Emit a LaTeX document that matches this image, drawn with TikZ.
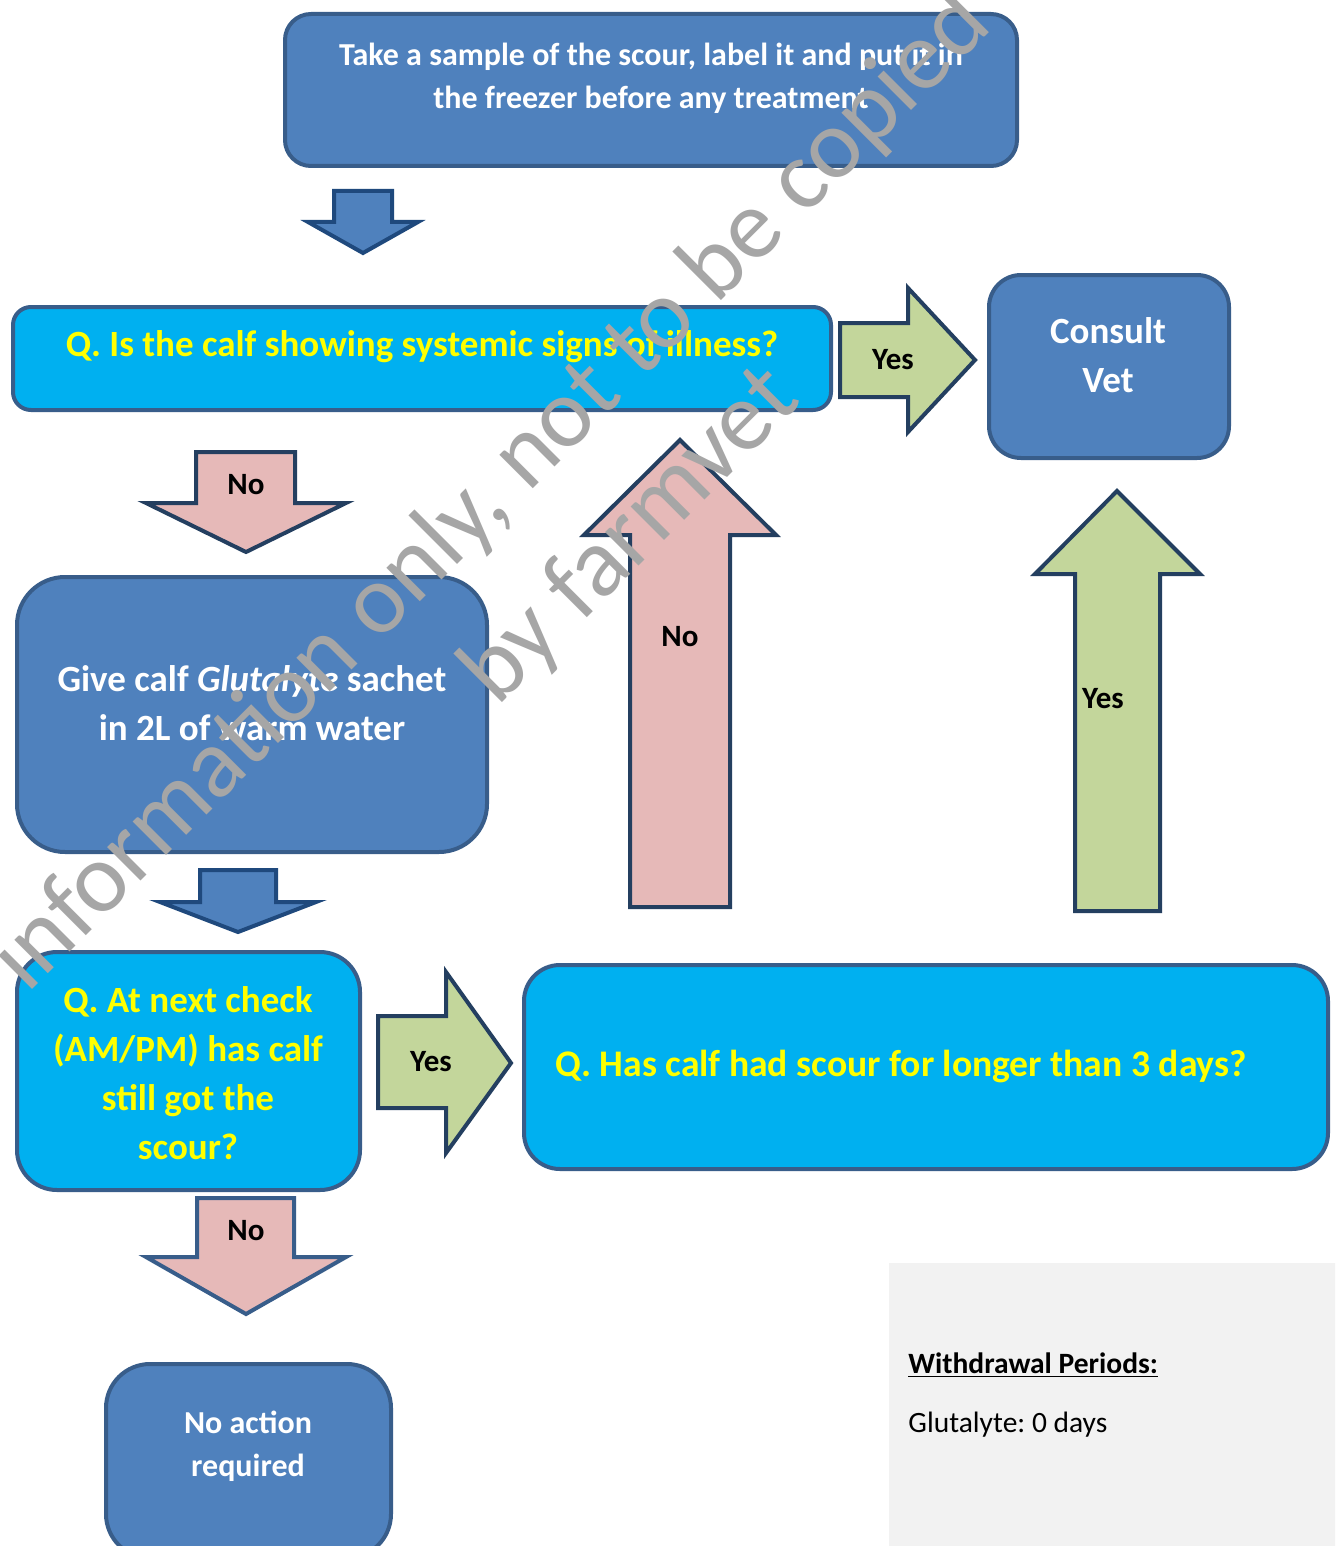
\documentclass[tikz,border=0pt]{standalone}
\usepackage{fontspec}
\setmainfont{Carlito}
\frenchspacing
\definecolor{bfill}{HTML}{4F81BD}
\definecolor{bline}{HTML}{385D8A}
\definecolor{cfill}{HTML}{00B0F0}
\definecolor{qyellow}{HTML}{FFFF00}
\definecolor{gfill}{HTML}{C3D69B}
\definecolor{pfill}{HTML}{E6B9B8}
\definecolor{aline}{HTML}{243F60}
\definecolor{barrowline}{HTML}{1F497D}
\definecolor{panel}{HTML}{F2F2F2}
\definecolor{wmark}{HTML}{A6A6A6}
\begin{document}
\begin{tikzpicture}[x=0.5pt,y=-0.5pt,
  bluebox/.style={draw=bline, fill=bfill, line width=2pt, inner sep=0pt},
  cyanbox/.style={draw=bline, fill=cfill, line width=2pt, inner sep=0pt},
  wtext/.style={text=white, font=\bfseries\fontsize{18.5pt}{24.5pt}\selectfont, align=center, inner sep=0pt},
  wsmall/.style={text=white, font=\bfseries\fontsize{16pt}{21.5pt}\selectfont, align=center, inner sep=0pt},
  ytext/.style={text=qyellow, font=\bfseries\fontsize{18.5pt}{24.5pt}\selectfont, align=center, inner sep=0pt},
  alabel/.style={text=black, font=\bfseries\fontsize{15.5pt}{18pt}\selectfont, inner sep=0pt},
  greenarrow/.style={draw=aline, fill=gfill, line width=2pt, line join=miter},
  pinkarrow/.style={draw=aline, fill=pfill, line width=2pt, line join=miter},
  bluearrow/.style={draw=barrowline, fill=bfill, line width=2pt, line join=miter},
  wm/.style={text=wmark, font=\fontsize{49.5pt}{58pt}\selectfont, inner sep=0pt}]
\clip (0,0) rectangle (1335,1546);
\useasboundingbox (0,0) rectangle (1335,1546);
\fill[white] (0,0) rectangle (1335,1546);

% grey panel
\fill[panel] (889,1263) rectangle (1340,1550);

% boxes
\node[bluebox, rounded corners=13pt, minimum width=366pt, minimum height=76pt] (b1) at (651,90) {};
\node[cyanbox, rounded corners=9pt, minimum width=409pt, minimum height=51.5pt] (b2) at (422,358.5) {};
\node[bluebox, rounded corners=16pt, minimum width=120pt, minimum height=91.5pt] (vet) at (1109,366.5) {};
\node[bluebox, rounded corners=24pt, minimum width=235pt, minimum height=137.5pt] (b3) at (252,714.5) {};
\node[cyanbox, rounded corners=20pt, minimum width=171.5pt, minimum height=119pt] (b4) at (188.5,1071) {};
\node[cyanbox, rounded corners=18pt, minimum width=402pt, minimum height=102pt] (b5) at (926,1067) {};
\node[bluebox, rounded corners=22pt, minimum width=142.5pt, minimum height=97pt] (b6) at (248.5,1461) {};

% block arrows
\draw[bluearrow] (334,191) -- (392,191) -- (392,222) -- (418,222) -- (363,253) -- (308,222) -- (334,222) -- cycle;
\draw[pinkarrow] (196,452) -- (295,452) -- (295,503) -- (346,503) -- (246,552) -- (146,503) -- (196,503) -- cycle;
\draw[greenarrow] (840,323) -- (908,323) -- (908,288) -- (975,360) -- (908,432) -- (908,397) -- (840,397) -- cycle;
\draw[bluearrow] (200,870) -- (276,870) -- (276,902) -- (316,902) -- (238,932) -- (160,902) -- (200,902) -- cycle;
\draw[greenarrow] (378,1016) -- (446,1016) -- (446,972) -- (511,1063) -- (446,1153) -- (446,1108) -- (378,1108) -- cycle;
\draw[pinkarrow] (630,907) -- (730,907) -- (730,535) -- (776,535) -- (680,440) -- (584,535) -- (630,535) -- cycle;
\draw[greenarrow] (1075,911) -- (1160,911) -- (1160,574) -- (1200,574) -- (1117,491) -- (1035,574) -- (1075,574) -- cycle;
\draw[pinkarrow, draw=bline] (197,1198) -- (294,1198) -- (294,1257) -- (346,1257) -- (246,1314) -- (146,1257) -- (197,1257) -- cycle;

% texts
\node[wsmall] (t1) at (651,78.5) {Take a sample of the scour, label it and put it in\\the freezer before any treatment};
\node[ytext] (t2) at (422,347) {Q. Is the calf showing systemic signs of illness?};
\node[wtext] (tv) at (1108,355) {Consult\\Vet};
\node[wtext] (t3) at (252,703) {Give calf \textit{Glutalyte} sachet\\in 2L of warm water};
\node[ytext] (t4) at (188,1073) {Q. At next check\\(AM/PM) has calf\\still got the\\scour?};
\node[ytext, font=\bfseries\fontsize{18.8pt}{24pt}\selectfont, anchor=west] (t5) at (555,1066) {Q. Has calf had scour for longer than 3 days?};
\node[wsmall] (t6) at (248,1446) {No action\\required};

\node[alabel] (l1) at (246,485) {No};
\node[alabel] (l2) at (893,360) {Yes};
\node[alabel] (l3) at (431,1062) {Yes};
\node[alabel] (l4) at (680,637) {No};
\node[alabel] (l5) at (1103,699) {Yes};
\node[alabel] (l6) at (246,1231) {No};

\node[font=\bfseries\fontsize{14.75pt}{18pt}\selectfont, anchor=west, inner sep=0pt] (w1) at (908,1365) {\underline{Withdrawal Periods:}};
\node[font=\fontsize{14.75pt}{18pt}\selectfont, anchor=west, inner sep=0pt] (w2) at (908,1425) {Glutalyte: 0 days};

% watermark
\node[wm, anchor=base east, rotate=45] (wm1) at (995,27) {For information only, not to be copied};
\node[wm, anchor=base west, rotate=45] (wm2) at (497,708) {by farmvet};
\end{tikzpicture}
\end{document}
